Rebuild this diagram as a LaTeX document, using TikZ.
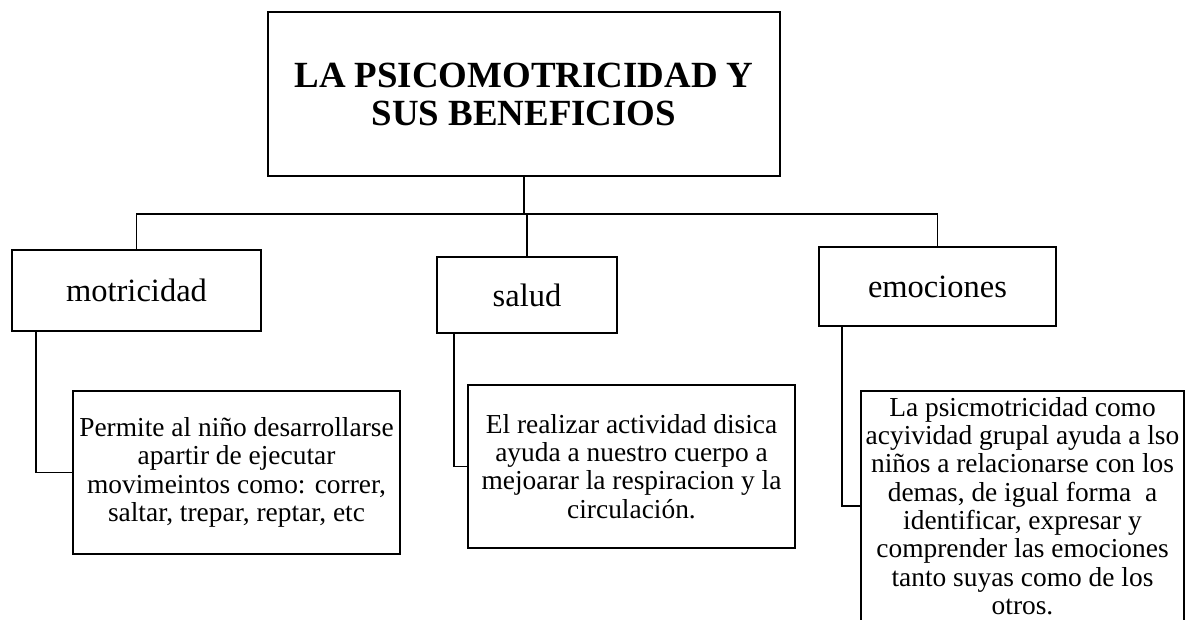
\documentclass[tikz,border=0pt]{standalone}
\usepackage{fontspec}
\setmainfont{Liberation Serif}
\usepackage{tikz}
\usetikzlibrary{positioning,calc}

\tikzset{
    box/.style={draw=black,line width=1.2pt,fill=white,inner sep=0pt,align=center},
    link/.style={draw=black,line width=0.9pt},
    topic/.style={box,font=\fontsize{18.5}{20}\selectfont},
    detail/.style={box,minimum width=6.54cm,minimum height=3.26cm,
        font=\fontsize{15.6}{16.1}\selectfont}
}

\begin{document}
\begin{tikzpicture}[x=0.02cm,y=-0.02cm]
    % page frame, same size as the scan
    \useasboundingbox (0,0) rectangle (1186,619);
    \clip (0,0) rectangle (1186,619);

    %main title
    \node[box,minimum width=10.24cm,minimum height=3.28cm,
        font=\fontsize{21}{21.6}\selectfont\bfseries] (title) at (524,94)
        {LA PSICOMOTRICIDAD Y\\SUS BENEFICIOS};

    %the three topics
    \node[topic,minimum width=4.98cm,minimum height=1.62cm] (motri) at (136.5,290.5) {motricidad};
    \node[topic,minimum width=3.6cm,minimum height=1.52cm] (salud) at (527,295) {salud};
    \node[topic,minimum width=4.74cm,minimum height=1.58cm] (emo) at (937.5,286.5) {emociones};

    %explanations under each topic
    \node[detail] (permite) at (236.5,472.5)
        {Permite al niño desarrollarse\\apartir de ejecutar\\movimeintos como: correr,\\saltar, trepar, reptar, etc};
    \node[detail] (realizar) at (631.5,466.5)
        {El realizar actividad disica\\ayuda a nuestro cuerpo a\\mejoarar la respiracion y la\\circulación.};
    \node[detail,minimum width=6.46cm,minimum height=4.6cm] (psico) at (1022.5,506)
        {La psicmotricidad como\\acyividad grupal ayuda a lso\\niños a relacionarse con los\\demas, de igual forma\ \ a\\identificar, expresar y\\comprender las emociones\\tanto suyas como de los\\otros.};

    %tree lines
    \coordinate (hub) at (524,214);
    \draw[link,line width=1.3pt] (title.south) -- (hub);
    \draw[link] (hub) -| (motri.north);
    \draw[link] (hub) -| (salud.north);
    \draw[link] (hub) -| (emo.north);

    \draw[link] ([xshift=5mm]motri.south west) |- (permite.west);
    \draw[link] ([xshift=3.6mm]salud.south west) |- (realizar.west);
    \draw[link] ([xshift=4.8mm]emo.south west) |- (psico.west);
\end{tikzpicture}
\end{document}
